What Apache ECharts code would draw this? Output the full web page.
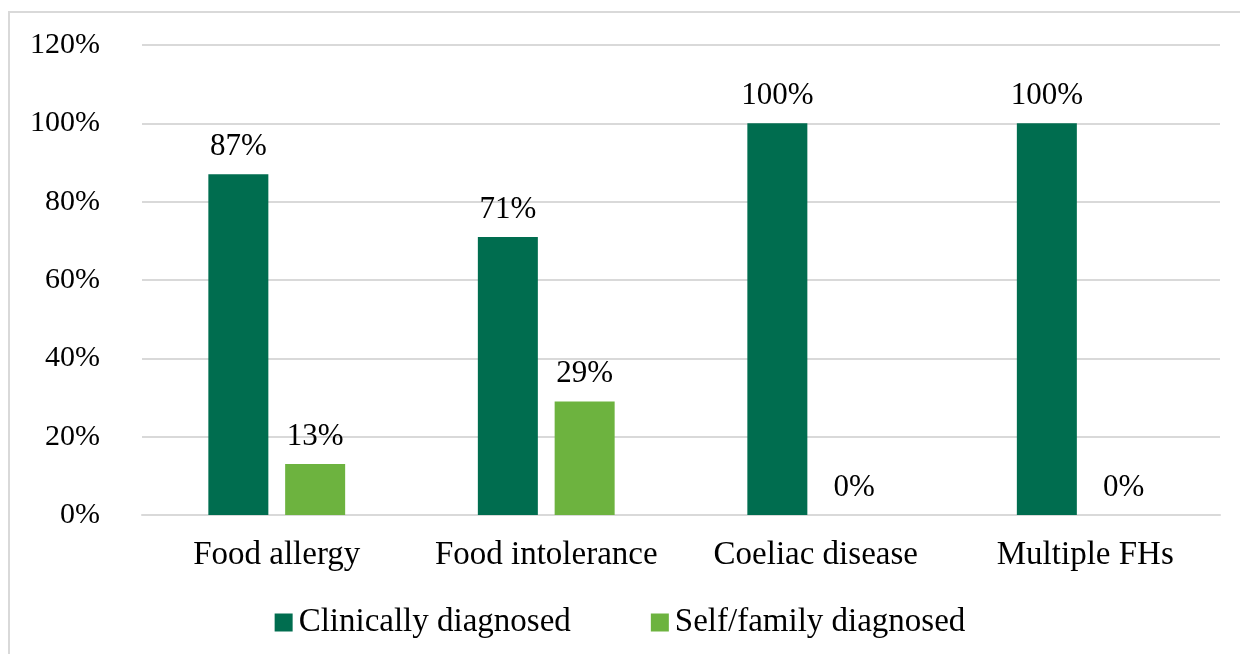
<!DOCTYPE html>
<html>
<head>
<meta charset="utf-8">
<script src="https://cdn.jsdelivr.net/npm/echarts@6/dist/echarts.min.js"></script>
<style>
  html, body { margin: 0; padding: 0; background: #fff; }
  #main { width: 1240px; height: 654px; }
</style>
</head>
<body>
<div id="main"></div>
<script>
var categories = ['Food allergy', 'Food intolerance', 'Coeliac disease', 'Multiple FHs'];
var clinical = [87, 71, 100, 100];
var selfFamily = [13, 29, 0, 0];
var yTicks = [0, 20, 40, 60, 80, 100, 120];

var chart = echarts.init(document.getElementById('main'));
var font = '"Liberation Serif", "Times New Roman", serif';

chart.setOption({
  animation: false,
  textStyle: { fontFamily: font },
  graphic: [{
    type: 'rect',
    shape: { x: 9, y: 12, width: 1260, height: 680 },
    style: { fill: 'none', stroke: '#d9d9d9', lineWidth: 2 }
  }],
  grid: { left: 142, right: 20, top: 45, bottom: 139 },
  legend: {
    top: 601,
    left: 'center',
    itemWidth: 18,
    itemHeight: 18,
    itemGap: 80,
    icon: 'rect',
    textStyle: { fontFamily: font, fontSize: 33, color: '#000', padding: [0, 0, 0, 1] },
    data: ['Clinically diagnosed', 'Self/family diagnosed']
  },
  xAxis: {
    type: 'category',
    data: categories,
    axisTick: { show: false },
    axisLine: { lineStyle: { color: '#d9d9d9', width: 2 } },
    axisLabel: { fontFamily: font, fontSize: 33, color: '#000', margin: 24, interval: 0 }
  },
  yAxis: {
    type: 'value',
    min: yTicks[0],
    max: yTicks[yTicks.length - 1],
    interval: 20,
    axisLine: { show: false },
    axisTick: { show: false },
    splitLine: { lineStyle: { color: '#d9d9d9', width: 2 } },
    axisLabel: { fontFamily: font, fontSize: 30, color: '#000', margin: 42, formatter: '{value}%' }
  },
  series: [
    {
      name: 'Clinically diagnosed',
      type: 'bar',
      data: clinical,
      barWidth: 60,
      barGap: '28%',
      itemStyle: { color: '#006d4f' },
      label: { show: true, position: 'top', distance: 12, fontFamily: font, fontSize: 31, color: '#000', formatter: '{c}%' }
    },
    {
      name: 'Self/family diagnosed',
      type: 'bar',
      data: selfFamily,
      barWidth: 60,
      itemStyle: { color: '#6db33f' },
      label: { show: true, position: 'top', distance: 12, fontFamily: font, fontSize: 31, color: '#000', formatter: '{c}%' }
    }
  ]
});
</script>
</body>
</html>
